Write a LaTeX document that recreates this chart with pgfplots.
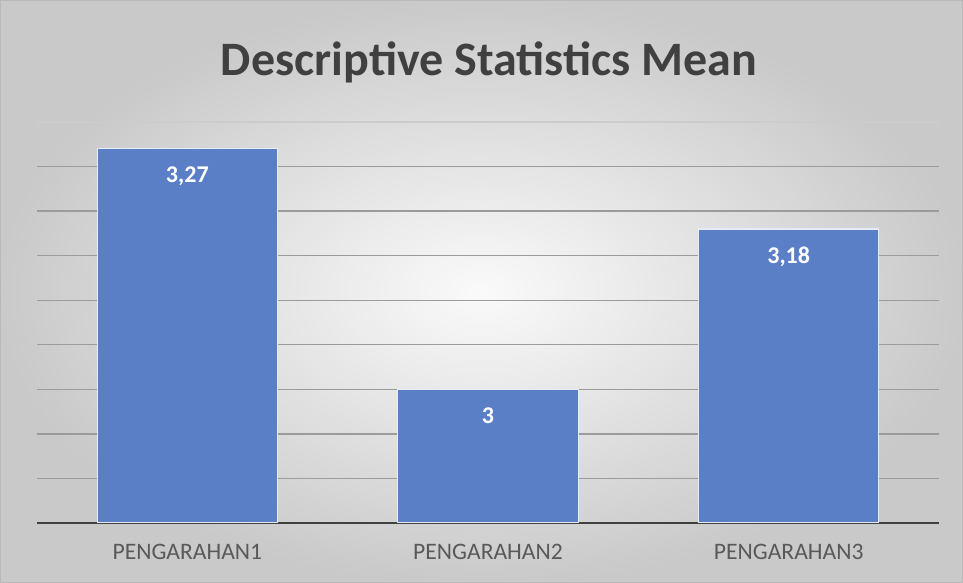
\documentclass[border=0pt]{standalone}
\usepackage{pgfplots}
\pgfplotsset{compat=1.18}
\usepackage{fontspec}
\setmainfont{Carlito}
\definecolor{barblue}{RGB}{91,127,199}
\definecolor{gridc}{RGB}{155,155,155}
\definecolor{txt}{RGB}{89,89,89}
\definecolor{titlec}{RGB}{64,64,64}
\begin{document}
\begin{tikzpicture}[x=1pt,y=1pt]
\shade[inner color=white!96!gray, outer color=gray!42, draw=gray!55, line width=0.8pt] (0.4,0.4) rectangle (962.6,582.6);
\node[font=\fontsize{48}{56}\selectfont\bfseries, text=titlec] at (489,521) {Descriptive Statistics Mean};
\begin{axis}[
  at={(37pt,60pt)}, anchor=south west,
  scale only axis, width=902pt, height=401pt,
  ymin=2.85, ymax=3.30,
  xmin=-0.5, xmax=2.5,
  axis x line*=bottom, axis y line*=left,
  y axis line style={draw=none},
  x axis line style={draw=black!75, line width=2.4pt, -},
  ytick={2.90,2.95,...,3.26}, yticklabels={},
  extra y ticks={3.30}, extra y tick labels={},
  extra y tick style={grid style={draw=gray!40, line width=1.2pt}},
  ymajorgrids, grid style={draw=gridc, line width=1.3pt},
  xtick=data, xticklabels={PENGARAHAN1,PENGARAHAN2,PENGARAHAN3},
  xticklabel style={font=\fontsize{23.6}{27}\selectfont, text=txt, yshift=-18pt},
  major tick length=0pt,
  ybar, bar width=0.6,
  clip=true,
  /pgf/number format/assume math mode=true,
  nodes near coords={\pgfmathprintnumber[use comma, fixed, precision=2, assume math mode=true]{\pgfplotspointmeta}},
  nodes near coords style={font=\fontsize{24}{28}\selectfont\bfseries, text=white, anchor=north, yshift=-14pt},
  point meta=explicit,
]
\addplot[fill=barblue, draw=white!85!barblue, line width=1.2pt] coordinates {(0,3.27) [3.27] (1,3.00) [3] (2,3.18) [3.18]};
\end{axis}
\end{tikzpicture}
\end{document}
